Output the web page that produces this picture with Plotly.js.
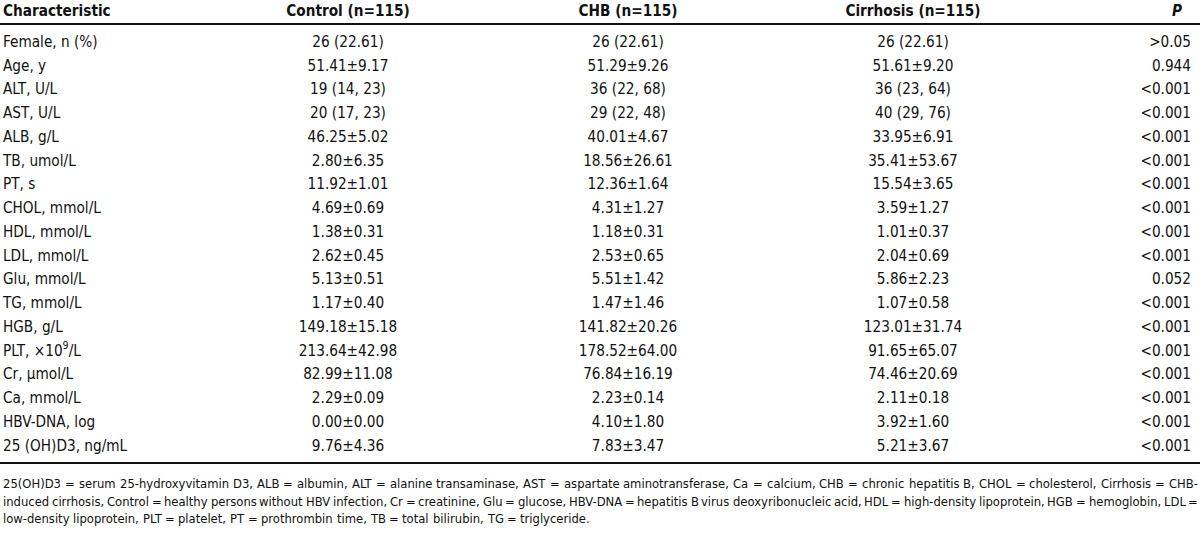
<!DOCTYPE html>
<html>
<head>
<meta charset="utf-8">
<script src="https://cdn.plot.ly/plotly-3.0.1.min.js"></script>
<style>html,body{margin:0;padding:0;background:#fff;}#chart{width:1200px;height:533px;}</style>
</head>
<body>
<div id="chart"></div>
<script>
// ---- data ----
const headers = ["Characteristic", "Control (n=115)", "CHB (n=115)", "Cirrhosis (n=115)", "<i>P</i>"];
const characteristics = ["Female, n (%)", "Age, y", "ALT, U/L", "AST, U/L", "ALB, g/L", "TB, umol/L", "PT, s",
  "CHOL, mmol/L", "HDL, mmol/L", "LDL, mmol/L", "Glu, mmol/L", "TG, mmol/L", "HGB, g/L",
  "PLT, ×10<sup>9</sup>/L", "Cr, μmol/L", "Ca, mmol/L", "HBV-DNA, log", "25 (OH)D3, ng/mL"];
const control = ["26 (22.61)", "51.41±9.17", "19 (14, 23)", "20 (17, 23)", "46.25±5.02", "2.80±6.35", "11.92±1.01",
  "4.69±0.69", "1.38±0.31", "2.62±0.45", "5.13±0.51", "1.17±0.40", "149.18±15.18",
  "213.64±42.98", "82.99±11.08", "2.29±0.09", "0.00±0.00", "9.76±4.36"];
const chb = ["26 (22.61)", "51.29±9.26", "36 (22, 68)", "29 (22, 48)", "40.01±4.67", "18.56±26.61", "12.36±1.64",
  "4.31±1.27", "1.18±0.31", "2.53±0.65", "5.51±1.42", "1.47±1.46", "141.82±20.26",
  "178.52±64.00", "76.84±16.19", "2.23±0.14", "4.10±1.80", "7.83±3.47"];
const cirrhosis = ["26 (22.61)", "51.61±9.20", "36 (23, 64)", "40 (29, 76)", "33.95±6.91", "35.41±53.67", "15.54±3.65",
  "3.59±1.27", "1.01±0.37", "2.04±0.69", "5.86±2.23", "1.07±0.58", "123.01±31.74",
  "91.65±65.07", "74.46±20.69", "2.11±0.18", "3.92±1.60", "5.21±3.67"];
const pvalues = ["&gt;0.05", "0.944", "&lt;0.001", "&lt;0.001", "&lt;0.001", "&lt;0.001", "&lt;0.001",
  "&lt;0.001", "&lt;0.001", "&lt;0.001", "0.052", "&lt;0.001", "&lt;0.001",
  "&lt;0.001", "&lt;0.001", "&lt;0.001", "&lt;0.001", "&lt;0.001"];
const footnote = [
  "25(OH)D3 = serum 25-hydroxyvitamin D3, ALB = albumin, ALT = alanine transaminase, AST = aspartate aminotransferase, Ca = calcium, CHB = chronic hepatitis B, CHOL = cholesterol, Cirrhosis = CHB-",
  "induced cirrhosis, Control = healthy persons without HBV infection, Cr = creatinine, Glu = glucose, HBV-DNA = hepatitis B virus deoxyribonucleic acid, HDL = high-density lipoprotein, HGB = hemoglobin, LDL =",
  "low-density lipoprotein, PLT = platelet, PT = prothrombin time, TB = total bilirubin, TG = triglyceride."
];

// ---- layout helpers ----
const FONT = "DejaVu Sans Condensed, Liberation Sans Narrow, Arial Narrow, sans-serif";
const SIZE = 15.2;
const FOOT_SIZE = 12.9;
const colX = [3, 348, 628, 913, 1191];
const rows = characteristics.map((_, i) => i + 1);
const headerRow = -0.3;

function textTrace(xpos, texts, pos, ys, bold) {
  return {
    type: "scatter", mode: "text",
    x: ys.map(() => xpos), y: ys,
    text: texts.map(t => bold ? "<b>" + t + "</b>" : t),
    textposition: pos,
    textfont: {family: FONT, size: SIZE, color: "#111"},
    hoverinfo: "skip", showlegend: false, cliponaxis: false
  };
}

const traces = [
  textTrace(colX[0], characteristics, "middle right", rows),
  textTrace(colX[1], control, "middle center", rows),
  textTrace(colX[2], chb, "middle center", rows),
  textTrace(colX[3], cirrhosis, "middle center", rows),
  textTrace(colX[4], pvalues, "middle left", rows),
  textTrace(colX[0], [headers[0]], "middle right", [headerRow], true),
  textTrace(colX[1], [headers[1]], "middle center", [headerRow], true),
  textTrace(colX[2], [headers[2]], "middle center", [headerRow], true),
  textTrace(colX[3], [headers[3]], "middle center", [headerRow], true),
  textTrace(1177, [headers[4]], "middle center", [headerRow], true)
];

// justified footnote: words laid out with measured widths
const ctx = document.createElement("canvas").getContext("2d");
ctx.font = FOOT_SIZE + "px 'DejaVu Sans Condensed'";
const lineY = [483, 501, 518];
const leftPx = 1, rightPx = 1196;
const annotations = [];
footnote.forEach((line, k) => {
  const words = line.split(" ");
  const widths = words.map(w => ctx.measureText(w).width);
  const total = widths.reduce((a, b) => a + b, 0);
  const justify = k < footnote.length - 1;
  const gap = justify ? (rightPx - leftPx - total) / (words.length - 1) : ctx.measureText(" ").width;
  let x = leftPx;
  words.forEach((w, j) => {
    annotations.push({
      xref: "paper", yref: "paper", x: x / 1200, y: 1 - lineY[k] / 533,
      xanchor: "left", yanchor: "middle", showarrow: false, align: "left",
      text: w, font: {family: FONT, size: FOOT_SIZE, color: "#111"}
    });
    x += widths[j] + gap;
  });
});

const layout = {
  width: 1200, height: 533,
  margin: {l: 0, r: 0, t: 0, b: 0},
  paper_bgcolor: "#fff", plot_bgcolor: "#fff",
  xaxis: {range: [0, 1200], visible: false, fixedrange: true},
  yaxis: {range: [21.62, -0.81], visible: false, fixedrange: true},
  shapes: [
    {type: "line", xref: "paper", yref: "paper", x0: 0, x1: 1, y0: 1 - 24 / 533, y1: 1 - 24 / 533, line: {color: "#111", width: 2}},
    {type: "line", xref: "paper", yref: "paper", x0: 0, x1: 1, y0: 1 - 463 / 533, y1: 1 - 463 / 533, line: {color: "#111", width: 2}}
  ],
  annotations: annotations
};

Plotly.newPlot("chart", traces, layout, {staticPlot: true, displayModeBar: false});
</script>
</body>
</html>
